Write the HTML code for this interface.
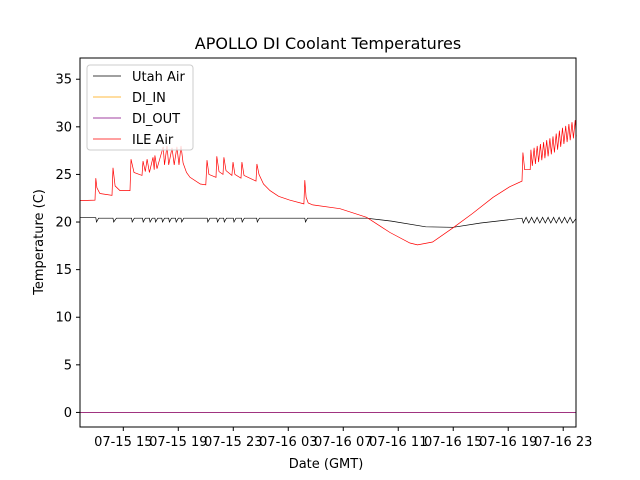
<!DOCTYPE html>
<html><head><meta charset="utf-8">
<style>
body{margin:0;background:#fff;}
svg{display:block;font-family:"DejaVu Sans","Liberation Sans",sans-serif;}
</style></head>
<body>
<svg id="chart" width="640" height="480" xmlns="http://www.w3.org/2000/svg">
<rect width="640" height="480" fill="#fff"/>
<text x="328" y="49" font-size="16" text-anchor="middle">APOLLO DI Coolant Temperatures</text>
<g id="plot"></g>
<rect x="80" y="58" width="496" height="369" fill="none" stroke="#000" stroke-width="1"/>
<g id="xticks"></g><g id="yticks"></g>
<text x="326" y="468" font-size="13" text-anchor="middle">Date (GMT)</text>
<text transform="translate(43,242) rotate(-90)" font-size="13" text-anchor="middle">Temperature (C)</text>
<g>
<rect x="87" y="65" width="106" height="85" rx="3" fill="#fff" fill-opacity="0.8" stroke="#ccc"/>
<g><line x1="93" y1="76" x2="121" y2="76" stroke="#000" stroke-width="0.8"/><text x="132" y="81" font-size="13">Utah Air</text></g>
<g><line x1="93" y1="97" x2="121" y2="97" stroke="#ffa500" stroke-width="0.8"/><text x="132" y="102" font-size="13">DI_IN</text></g>
<g><line x1="93" y1="118" x2="121" y2="118" stroke="#800080" stroke-width="0.8"/><text x="132" y="123" font-size="13">DI_OUT</text></g>
<g><line x1="93" y1="139" x2="121" y2="139" stroke="#ff0000" stroke-width="0.8"/><text x="132" y="144" font-size="13">ILE Air</text></g>
</g>
</svg>
<script>
// hours since 07-15 00:00 GMT
const xTickHours = [15,19,23,27,31,35,39,43,47];
const xTickLabels = ["07-15 15","07-15 19","07-15 23","07-16 03","07-16 07","07-16 11","07-16 15","07-16 19","07-16 23"];
const yTickValues = [0,5,10,15,20,25,30,35];
const ileTimes = [11.85,12.94,13.0,13.08,13.3,14.18,14.25,14.4,14.76,15.49,15.56,15.78,16.36,16.43,16.6,16.73,16.9,17.16,17.25,17.3,17.45,17.9,18.0,18.18,18.3,18.54,18.7,18.9,19.05,19.2,19.35,19.6,19.85,20.6,21.0,21.09,21.23,21.74,21.8,21.96,22.25,22.32,22.47,22.9,22.98,23.12,23.56,23.63,23.78,24.65,24.72,24.87,25.2,25.67,26.3,27.1,28.14,28.2,28.3,28.45,28.78,30.76,32.7,34.4,35.85,36.4,37.5,39.0,40.4,41.9,43.1,44.0,44.07,44.2,44.6,44.65,44.75,44.88,44.98,45.11,45.21,45.34,45.44,45.57,45.67,45.8,45.9,46.03,46.13,46.26,46.36,46.49,46.59,46.72,46.82,46.95,47.05,47.18,47.28,47.41,47.51,47.64,47.74,47.87,47.95];
const ileValues = [22.25,22.3,24.6,23.6,23.0,22.8,25.7,23.8,23.3,23.3,26.6,25.2,24.9,26.4,25.3,26.6,25.2,26.8,25.5,27.0,25.6,27.9,26.0,28.0,26.0,27.8,26.0,27.9,26.0,28.0,26.2,25.2,24.7,24.0,23.9,26.5,25.0,24.7,26.9,25.3,25.0,26.8,25.4,24.9,26.3,25.0,24.6,26.3,24.9,24.3,26.1,25.0,24.0,23.3,22.7,22.3,21.9,24.4,22.6,22.0,21.8,21.4,20.5,18.9,17.8,17.6,17.9,19.4,20.9,22.6,23.7,24.3,27.3,25.5,25.5,27.6,25.9,27.8,26.1,28.0,26.3,28.2,26.5,28.4,26.7,28.6,26.9,28.8,27.1,29.0,27.3,29.3,27.6,29.6,27.9,29.9,28.2,30.1,28.4,30.3,28.6,30.5,28.8,30.7,29.0];
const utahTimes = [11.85,13.0,13.05,13.2,14.25,14.3,14.5,15.6,15.65,15.8,16.4,16.45,16.6,16.9,16.95,17.1,17.3,17.35,17.5,17.8,17.85,18.0,18.3,18.35,18.5,18.8,18.85,19.0,19.2,19.25,19.4,21.1,21.15,21.3,21.8,21.85,22.0,22.3,22.35,22.5,23.0,23.05,23.2,23.6,23.65,23.8,24.7,24.75,24.9,28.2,28.25,28.4,32.7,34.5,37.0,39.0,41.0,44.0,44.1,44.3,44.5,44.7,44.9,45.1,45.3,45.5,45.7,45.9,46.1,46.3,46.5,46.7,46.9,47.1,47.3,47.5,47.7,47.95];
const utahValues = [20.45,20.45,20.0,20.4,20.4,20.0,20.4,20.4,20.0,20.4,20.4,20.0,20.4,20.4,20.0,20.4,20.4,20.0,20.4,20.4,20.0,20.4,20.4,20.0,20.4,20.4,20.0,20.4,20.4,20.0,20.4,20.4,20.0,20.4,20.4,20.0,20.4,20.4,20.0,20.4,20.4,20.0,20.4,20.4,20.0,20.4,20.4,20.0,20.4,20.4,20.0,20.4,20.4,20.1,19.5,19.45,19.9,20.4,19.9,20.5,19.9,20.5,19.9,20.5,19.9,20.5,19.9,20.5,19.9,20.5,19.9,20.5,19.9,20.5,19.9,20.5,19.9,20.4];
const diTimes = [11.85,47.95];
const diInValues = [0,0];
const diOutValues = [0,0];

const X0=80,X1=576,Y0=58,Y1=427;
const tMin=11.85,tMax=47.93,vMin=-1.53,vMax=37.23;
const xs=t=>X0+(t-tMin)/(tMax-tMin)*(X1-X0);
const ys=v=>Y1-(v-vMin)/(vMax-vMin)*(Y1-Y0);
const NS="http://www.w3.org/2000/svg";
const plot=document.getElementById('plot');
function line(ts,vs,color,name){
  const p=document.createElementNS(NS,'polyline');
  p.setAttribute('points',ts.map((t,i)=>xs(t).toFixed(1)+','+ys(vs[i]).toFixed(1)).join(' '));
  p.setAttribute('fill','none');p.setAttribute('stroke',color);p.setAttribute('stroke-width','0.7');
  
  
  plot.appendChild(p);
}
line(utahTimes,utahValues,'#000','series-utah-air');
line(diTimes,diInValues,'#ffa500','series-di-in');
line(diTimes,diOutValues,'#800080','series-di-out');
line(ileTimes,ileValues,'#ff0000','series-ile-air');

const xt=document.getElementById('xticks');
xTickHours.forEach((h,i)=>{
  const x=xs(h);
  const g=document.createElementNS(NS,'g');
  
  
  g.innerHTML=`<line x1="${x}" y1="427" x2="${x}" y2="431" stroke="#000"/><text x="${x}" y="446" font-size="13" text-anchor="middle">${xTickLabels[i]}</text>`;
  xt.appendChild(g);
});
const yt=document.getElementById('yticks');
yTickValues.forEach(v=>{
  const y=ys(v);
  const g=document.createElementNS(NS,'g');
  
  
  g.innerHTML=`<line x1="76" y1="${y}" x2="80" y2="${y}" stroke="#000"/><text x="72" y="${y+4.5}" font-size="13" text-anchor="end">${v}</text>`;
  yt.appendChild(g);
});
</script>
</body></html>
